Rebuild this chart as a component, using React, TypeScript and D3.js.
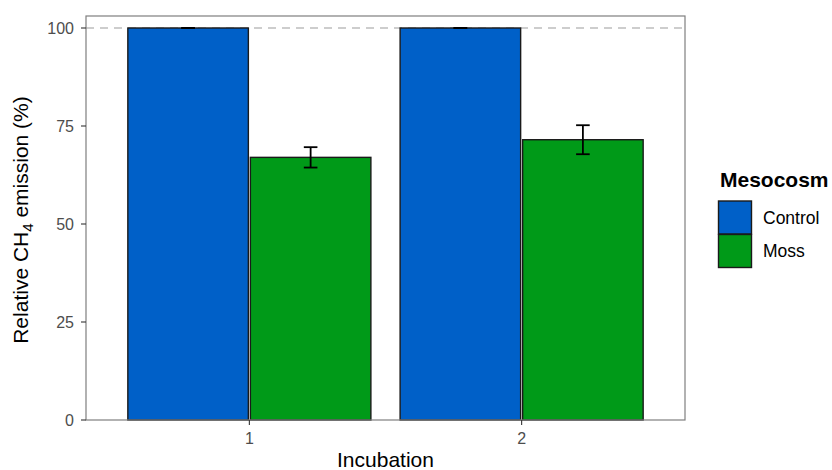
import React from "react";
import * as d3 from "d3";

const incubations = ["1", "2"];
const groups = ["Control", "Moss"];
const controlValues = [100, 100];
const controlErrors = [0, 0];
const mossValues = [67.0, 71.5];
const mossErrors = [2.6, 3.7];
const yTicks = [0, 25, 50, 75, 100];
const colors = ["#0060C8", "#009A18"];

const W = 832, H = 470;
const panel = { left: 86, right: 685, top: 16, bottom: 420 };

export default function App() {
  const y = d3.scaleLinear().domain([0, 100]).range([420, 28]);
  // discrete axis with ggplot-like expansion (0.6 units each side)
  const xc = d3.scaleLinear().domain([0.4, 2.6]).range([panel.left, panel.right]);
  const unit = xc(2) - xc(1);
  const barW = 0.45 * unit;
  const font = "'Liberation Sans', Arial, Helvetica, sans-serif";

  const rows = incubations.flatMap((inc, i) => [
    { inc, g: 0, v: controlValues[i], e: controlErrors[i], c: xc(i + 1) - barW / 2 },
    { inc, g: 1, v: mossValues[i], e: mossErrors[i], c: xc(i + 1) + barW / 2 },
  ]);

  return (
    <svg width={W} height={H} style={{ display: "block", position: "absolute", left: 0, top: 0 }} fontFamily={font}>
      <rect x={0} y={0} width={W} height={H} fill="white" />
      {/* dashed reference */}
      <line x1={panel.left} x2={panel.right} y1={y(100)} y2={y(100)} stroke="#bdbdbd" strokeWidth={1.5} strokeDasharray="8,6" />
      {/* bars */}
      {rows.map((r, i) => (
        <rect key={i} x={r.c - barW / 2 + 1} y={y(r.v)} width={barW - 2} height={y(0) - y(r.v)}
          fill={colors[r.g]} stroke="#1a1a1a" strokeWidth={1.4} />
      ))}
      {/* error bars */}
      {rows.map((r, i) => {
        const hw = 0.025 * unit;
        return (
          <g key={"e" + i} stroke="black" strokeWidth={1.8}>
            <line x1={r.c} x2={r.c} y1={y(r.v + r.e)} y2={y(r.v - r.e)} />
            <line x1={r.c - hw} x2={r.c + hw} y1={y(r.v + r.e)} y2={y(r.v + r.e)} />
            <line x1={r.c - hw} x2={r.c + hw} y1={y(r.v - r.e)} y2={y(r.v - r.e)} />
          </g>
        );
      })}
      {/* panel border */}
      <rect x={panel.left} y={panel.top} width={panel.right - panel.left} height={panel.bottom - panel.top}
        fill="none" stroke="#7f7f7f" strokeWidth={1.2} />
      {/* y axis ticks */}
      {yTicks.map((t) => (
        <g key={t}>
          <line x1={panel.left - 5} x2={panel.left} y1={y(t)} y2={y(t)} stroke="#333" strokeWidth={1.1} />
          <text x={panel.left - 12} y={y(t)} dy="0.36em" textAnchor="end" fontSize={16} fill="#4d4d4d">{t}</text>
        </g>
      ))}
      {/* x axis ticks */}
      {incubations.map((inc, i) => (
        <g key={inc}>
          <line x1={xc(i + 1)} x2={xc(i + 1)} y1={panel.bottom} y2={panel.bottom + 5} stroke="#333" strokeWidth={1.1} />
          <text x={xc(i + 1)} y={443.5} textAnchor="middle" fontSize={16} fill="#4d4d4d">{inc}</text>
        </g>
      ))}
      {/* axis titles */}
      <text x={(panel.left + panel.right) / 2} y={467} textAnchor="middle" fontSize={21} fill="black">Incubation</text>
      <text transform={`translate(28,${(panel.top + panel.bottom) / 2 + 2}) rotate(-90)`} textAnchor="middle" fontSize={21} fill="black">
        Relative CH<tspan fontSize={15} dy={5}>4</tspan><tspan dy={-5}> emission (%)</tspan>
      </text>
      {/* legend */}
      <text x={720} y={187} fontSize={21} fontWeight="bold" fill="black">Mesocosm</text>
      {groups.map((g, i) => (
        <g key={g}>
          <rect x={718.5} y={201 + i * 33.5} width={33} height={33} fill={colors[i]} stroke="#1a1a1a" strokeWidth={1.4} />
          <text x={763} y={218 + i * 33} dy="0.36em" fontSize={17.5} fill="black">{g}</text>
        </g>
      ))}
    </svg>
  );
}
